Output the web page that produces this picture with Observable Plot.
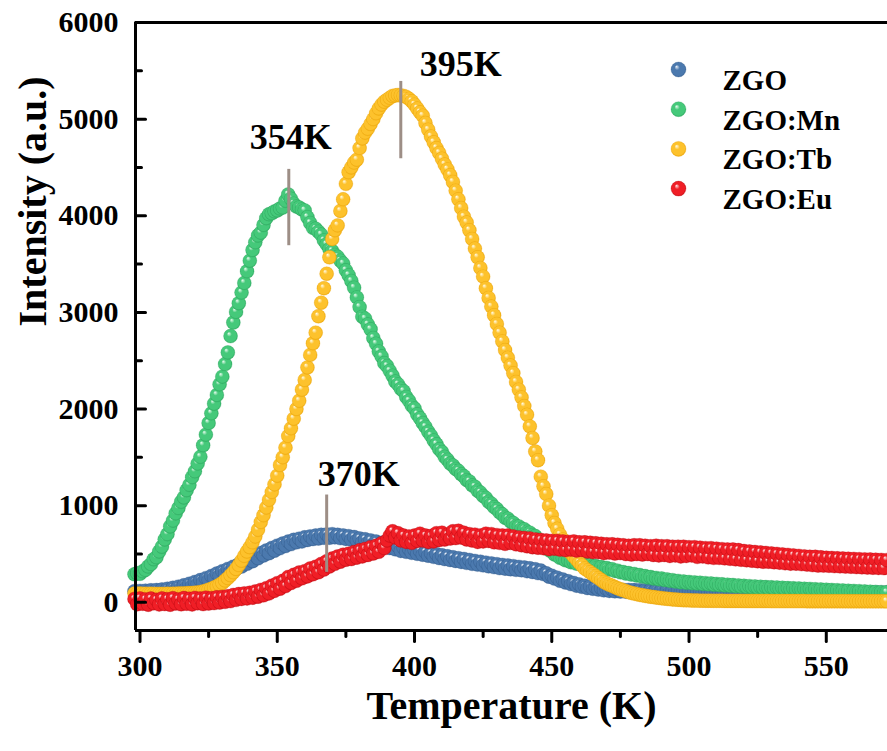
<!DOCTYPE html>
<html>
<head>
<meta charset="utf-8">
<script src="https://cdn.jsdelivr.net/npm/d3@7"></script>
<script src="https://cdn.jsdelivr.net/npm/@observablehq/plot@0.6"></script>
<style>
  html, body { margin: 0; padding: 0; background: #fff; }
  #chart svg { display: block; }
</style>
</head>
<body>
<div id="chart"></div>
<script>
// ---------- data ----------
const temperature = [
  298,299,300,301,302,303,304,305,306,307,
  308,309,310,311,312,313,314,315,316,317,
  318,319,320,321,322,323,324,325,326,327,
  328,329,330,331,332,333,334,335,336,337,
  338,339,340,341,342,343,344,345,346,347,
  348,349,350,351,352,353,354,355,356,357,
  358,359,360,361,362,363,364,365,366,367,
  368,369,370,371,372,373,374,375,376,377,
  378,379,380,381,382,383,384,385,386,387,
  388,389,390,391,392,393,394,395,396,397,
  398,399,400,401,402,403,404,405,406,407,
  408,409,410,411,412,413,414,415,416,417,
  418,419,420,421,422,423,424,425,426,427,
  428,429,430,431,432,433,434,435,436,437,
  438,439,440,441,442,443,444,445,446,447,
  448,449,450,451,452,453,454,455,456,457,
  458,459,460,461,462,463,464,465,466,467,
  468,469,470,471,472,473,474,475,476,477,
  478,479,480,481,482,483,484,485,486,487,
  488,489,490,491,492,493,494,495,496,497,
  498,499,500,501,502,503,504,505,506,507,
  508,509,510,511,512,513,514,515,516,517,
  518,519,520,521,522,523,524,525,526,527,
  528,529,530,531,532,533,534,535,536,537,
  538,539,540,541,542,543,544,545,546,547,
  548,549,550,551,552,553,554,555,556,557,
  558,559,560,561,562,563,564,565,566,567,
  568,569,570,571,572
];

const zgo = [
  115,95,118,100,120,102,124,104,126,108,
  132,114,140,120,150,130,162,144,176,156,
  192,172,210,190,230,208,250,230,272,252,
  298,276,322,298,345,320,368,344,395,370,
  425,398,455,425,482,455,510,484,536,508,
  562,534,586,560,608,582,628,602,646,620,
  658,630,672,645,682,655,690,660,698,668,
  702,668,705,672,698,664,692,656,684,648,
  675,640,660,624,652,614,640,598,628,590,
  615,578,602,562,590,548,578,532,564,522,
  552,512,542,502,532,492,520,482,508,470,
  498,458,486,448,476,438,466,428,456,418,
  448,408,438,398,428,390,420,382,410,372,
  402,364,394,354,386,348,380,342,374,336,
  366,332,360,322,352,314,342,302,328,292,
  300,265,275,245,255,222,236,205,218,188,
  200,172,185,160,170,148,162,140,155,132,
  145,124,136,118,132,114,130,112,128,110,
  127,109,126,108,125,107,124,106,124,106,
  123,105,122,105,122,104,121,104,121,103,
  120,103,120,102,119,102,119,101,118,101,
  118,100,117,100,117,99,116,99,116,98,
  115,98,115,97,114,97,114,96,113,96,
  113,95,112,95,112,94,111,94,111,93,
  110,93,110,92,109,92,109,91,108,91,
  108,90,107,90,107,89,106,89,106,88,
  105,88,105,87,104,87,104,86,103,86,
  103,85,102,85,102
];

const zgoMn = [
  290,300,295,320,335,370,395,445,465,525,
  575,650,705,785,845,920,975,1040,1085,1160,
  1215,1295,1355,1435,1505,1625,1735,1855,1955,2055,
  2145,2255,2335,2465,2585,2755,2895,3005,3095,3205,
  3305,3425,3535,3645,3725,3795,3825,3905,3975,4015,
  4025,4045,4055,4075,4085,4155,4220,4175,4125,4095,
  4085,4065,4055,3985,3925,3875,3865,3835,3805,3745,
  3705,3655,3635,3595,3575,3535,3505,3435,3385,3325,
  3255,3155,3055,2955,2935,2875,2825,2735,2675,2595,
  2545,2475,2445,2395,2345,2285,2255,2210,2185,2125,
  2085,2035,2005,1945,1905,1855,1815,1765,1725,1675,
  1635,1585,1555,1505,1475,1435,1415,1380,1360,1325,
  1305,1265,1250,1210,1195,1155,1135,1100,1080,1040,
  1020,985,965,930,910,875,865,835,820,790,
  785,760,755,730,720,695,685,650,635,595,
  575,540,525,495,485,460,455,435,435,415,
  417,400,405,390,395,380,385,370,375,360,
  365,350,355,338,342,325,327,310,313,297,
  302,287,293,277,282,266,271,256,261,246,
  252,238,245,231,237,223,229,215,221,207,
  214,202,210,198,206,194,202,190,198,186,
  194,182,190,178,186,174,182,170,178,166,
  174,162,170,158,167,155,163,151,160,148,
  157,146,155,144,152,141,150,138,147,136,
  145,134,143,132,140,129,138,126,135,123,
  132,121,130,119,127,116,125,113,122,110,
  119,108,117,106,115,103,112,101,109,98,
  107,96,105,94,103
];

const zgoTb = [
  92,88,90,87,89,86,88,86,87,85,
  87,86,88,87,89,88,90,90,92,93,
  95,96,98,101,105,112,120,130,140,152,
  165,182,200,225,250,280,310,345,385,430,
  480,525,570,620,680,750,830,900,980,1060,
  1140,1220,1310,1420,1500,1600,1720,1800,1900,2000,
  2085,2200,2300,2430,2560,2680,2790,2960,3100,3250,
  3400,3570,3760,3850,3900,4050,4170,4330,4450,4500,
  4550,4580,4700,4800,4860,4900,4950,5000,5060,5110,
  5150,5180,5200,5220,5240,5245,5250,5245,5240,5230,
  5210,5185,5150,5110,5070,5035,4960,4890,4820,4760,
  4700,4650,4590,4530,4480,4420,4350,4260,4170,4080,
  3990,3930,3850,3760,3660,3570,3460,3370,3250,3150,
  3060,2970,2880,2790,2700,2610,2530,2450,2370,2280,
  2200,2120,2030,1940,1820,1700,1560,1470,1300,1200,
  1120,1000,900,820,760,700,650,600,550,510,
  475,445,410,380,350,330,310,290,270,250,
  230,210,195,182,170,157,145,135,125,115,
  105,97,90,84,78,72,67,62,58,54,
  50,46,42,39,36,33,30,28,26,24,
  22,21,20,19,18,18,17,17,16,16,
  16,15,15,15,15,14,14,14,14,14,
  14,14,13,13,13,13,13,13,13,13,
  13,13,12,12,12,12,12,12,12,12,
  12,12,12,12,12,11,11,11,11,11,
  11,11,11,11,11,11,11,11,11,11,
  10,10,10,10,10,10,10,10,10,10,
  10,10,10,10,10
];

const zgoEu = [
  35,-20,40,-15,30,-25,38,-10,25,-22,
  40,-18,32,-25,42,-12,30,-20,44,-15,
  36,-22,45,-10,38,-18,48,-12,42,-8,
  52,-2,55,5,62,12,75,25,85,35,
  92,40,98,48,112,58,128,72,146,92,
  172,118,198,140,222,168,262,200,284,222,
  308,248,322,268,350,290,368,310,396,338,
  425,370,452,398,474,420,492,440,502,448,
  520,462,538,475,552,490,570,505,584,522,
  610,560,640,690,735,670,715,640,690,625,
  680,615,690,635,710,640,690,625,685,630,
  715,645,720,650,700,660,735,665,740,670,
  720,650,705,640,700,625,690,630,710,635,
  705,620,695,615,690,605,690,615,680,600,
  670,590,665,580,660,570,650,565,645,560,
  640,550,635,555,635,545,630,540,625,545,
  630,535,620,540,620,525,615,520,610,520,
  605,510,600,515,600,505,595,510,590,500,
  585,495,590,500,590,495,585,500,580,490,
  585,485,580,490,580,480,575,485,575,475,
  575,480,570,485,570,470,565,475,560,465,
  560,460,555,460,550,455,545,450,545,445,
  540,440,530,435,525,430,520,425,515,420,
  510,420,505,415,500,410,495,405,490,400,
  485,400,480,395,475,390,470,385,470,380,
  465,380,460,378,458,375,455,372,452,370,
  450,368,448,365,446,362,444,360,442,358,
  440,356,438,354,436
];

const seriesNames = ["ZGO", "ZGO:Mn", "ZGO:Tb", "ZGO:Eu"];
const seriesValues = [zgo, zgoMn, zgoTb, zgoEu];

// peak markers
const markerLabels = ["354K", "395K", "370K"];
const markerTemps = [354.2, 395, 368];
const markerTop = [4480, 5390, 1110];
const markerBottom = [3690, 4590, 310];

// axis ticks
const xTicks = [300, 350, 400, 450, 500, 550];
const xMinorTicks = [325, 375, 425, 475, 525];
const yTicks = [0, 1000, 2000, 3000, 4000, 5000, 6000];
const yMinorTicks = [500, 1500, 2500, 3500, 4500, 5500];

// ---------- styles ----------
const palette = [
  {id: "g-zgo", base: "#4b79ae", light: "#eef3fa", edge: "#3a6598"},
  {id: "g-mn",  base: "#45c97a", light: "#eefdf3", edge: "#31ad63"},
  {id: "g-tb",  base: "#fdc22c", light: "#fffcec", edge: "#eeaa10"},
  {id: "g-eu",  base: "#f01e26", light: "#ffeaea", edge: "#cc1018"}
];
const FONT = "'Liberation Serif', 'Times New Roman', Times, serif";

const rows = seriesNames.map((name, s) =>
  temperature.map((t, i) => ({T: t, I: seriesValues[s][i], name}))
);
const markers = markerLabels.map((label, i) => ({
  label, T: markerTemps[i], top: markerTop[i], bottom: markerBottom[i]
}));

// straight tick shape for vector marks
const tickShape = {draw(context, l) { context.moveTo(0, 0); context.lineTo(0, -l); }};

function defsMark() {
  const defs = d3.create("svg:defs");
  for (const p of palette) {
    const g = defs.append("radialGradient")
      .attr("id", p.id).attr("cx", "50%").attr("cy", "50%").attr("r", "50%")
      .attr("fx", "36%").attr("fy", "30%");
    g.append("stop").attr("offset", "0%").attr("stop-color", p.light);
    g.append("stop").attr("offset", "35%").attr("stop-color", p.base);
    g.append("stop").attr("offset", "85%").attr("stop-color", p.base);
    g.append("stop").attr("offset", "100%").attr("stop-color", p.edge);
  }
  return defs.node();
}

const legendTop = 47;
const legendStep = 39.7;
const textStyle = {fontWeight: "bold", fontFamily: FONT, fill: "#000"};

const marks = [
  defsMark,
  // data dots (drawn in legend order)
  ...rows.map((data, s) => Plot.dot(data, {
    x: "T", y: "I", r: 7,
    fill: `url(#${palette[s].id})`,
    stroke: palette[s].edge, strokeWidth: 0.6, strokeOpacity: 0.5
  })),
  // peak markers
  Plot.ruleX(markers, {x: "T", y1: "bottom", y2: "top", stroke: "#9d8e86", strokeWidth: 3}),
  Plot.text(markers.filter(d => d.label === "354K"), {x: "T", y: "top", text: "label", dx: 2, dy: -20, lineAnchor: "bottom", fontSize: 36, ...textStyle}),
  Plot.text(markers.filter(d => d.label === "395K"), {x: "T", y: "top", text: "label", dx: 60, dy: -5, lineAnchor: "bottom", fontSize: 36, ...textStyle}),
  Plot.text(markers.filter(d => d.label === "370K"), {x: "T", y: "top", text: "label", dx: 32, dy: -9, lineAnchor: "bottom", fontSize: 36, ...textStyle}),
  // frame lines
  Plot.ruleX([298.36], {stroke: "#000", strokeWidth: 3}),
  Plot.ruleY([-292], {stroke: "#000", strokeWidth: 3}),
  Plot.ruleY([6000], {stroke: "#000", strokeWidth: 3}),
  // y ticks (inward)
  Plot.vector(yTicks, {y: d => d, frameAnchor: "left", rotate: 90, length: 10, anchor: "start", shape: tickShape, stroke: "#000", strokeWidth: 3}),
  Plot.vector(yMinorTicks, {y: d => d, frameAnchor: "left", rotate: 90, length: 6, anchor: "start", shape: tickShape, stroke: "#000", strokeWidth: 3}),
  // x ticks (outward)
  Plot.vector(xTicks, {x: d => d, frameAnchor: "bottom", rotate: 180, length: 11, anchor: "start", shape: tickShape, stroke: "#000", strokeWidth: 3}),
  Plot.vector(xMinorTicks, {x: d => d, frameAnchor: "bottom", rotate: 180, length: 6, anchor: "start", shape: tickShape, stroke: "#000", strokeWidth: 3}),
  // tick labels
  Plot.axisY(yTicks, {anchor: "left", tickSize: 0, tickPadding: 17, label: null, tickFormat: d => String(d), fontSize: 30, ...textStyle}),
  Plot.axisX(xTicks, {anchor: "bottom", tickSize: 0, tickPadding: 24, label: null, tickFormat: d => String(d), fontSize: 30, ...textStyle}),
  // axis titles
  Plot.text(["Temperature (K)"], {frameAnchor: "bottom", dy: 88, fontSize: 40, ...textStyle}),
  Plot.text(["Intensity (a.u.)"], {frameAnchor: "left", dx: -102, rotate: -90, fontSize: 40, ...textStyle}),
  // legend
  ...seriesNames.map((name, s) => Plot.dot([name], {
    frameAnchor: "top-left", dx: 543, dy: legendTop + s * legendStep, r: 7.5,
    fill: `url(#${palette[s].id})`, stroke: palette[s].edge, strokeWidth: 0.6, strokeOpacity: 0.5
  })),
  ...seriesNames.map((name, s) => Plot.text([name], {
    frameAnchor: "top-left", dx: 587, dy: legendTop + s * legendStep,
    textAnchor: "start", fontSize: 29, ...textStyle
  }))
];

const chart = Plot.plot({
  width: 887,
  height: 751,
  marginLeft: 135,
  marginRight: 0,
  marginTop: 22,
  marginBottom: 121,
  style: {fontFamily: FONT, background: "#fff", overflow: "visible"},
  x: {type: "linear", domain: [298.36, 572.3]},
  y: {type: "linear", domain: [-292, 6000]},
  marks
});
document.getElementById("chart").appendChild(chart);
</script>
</body>
</html>
